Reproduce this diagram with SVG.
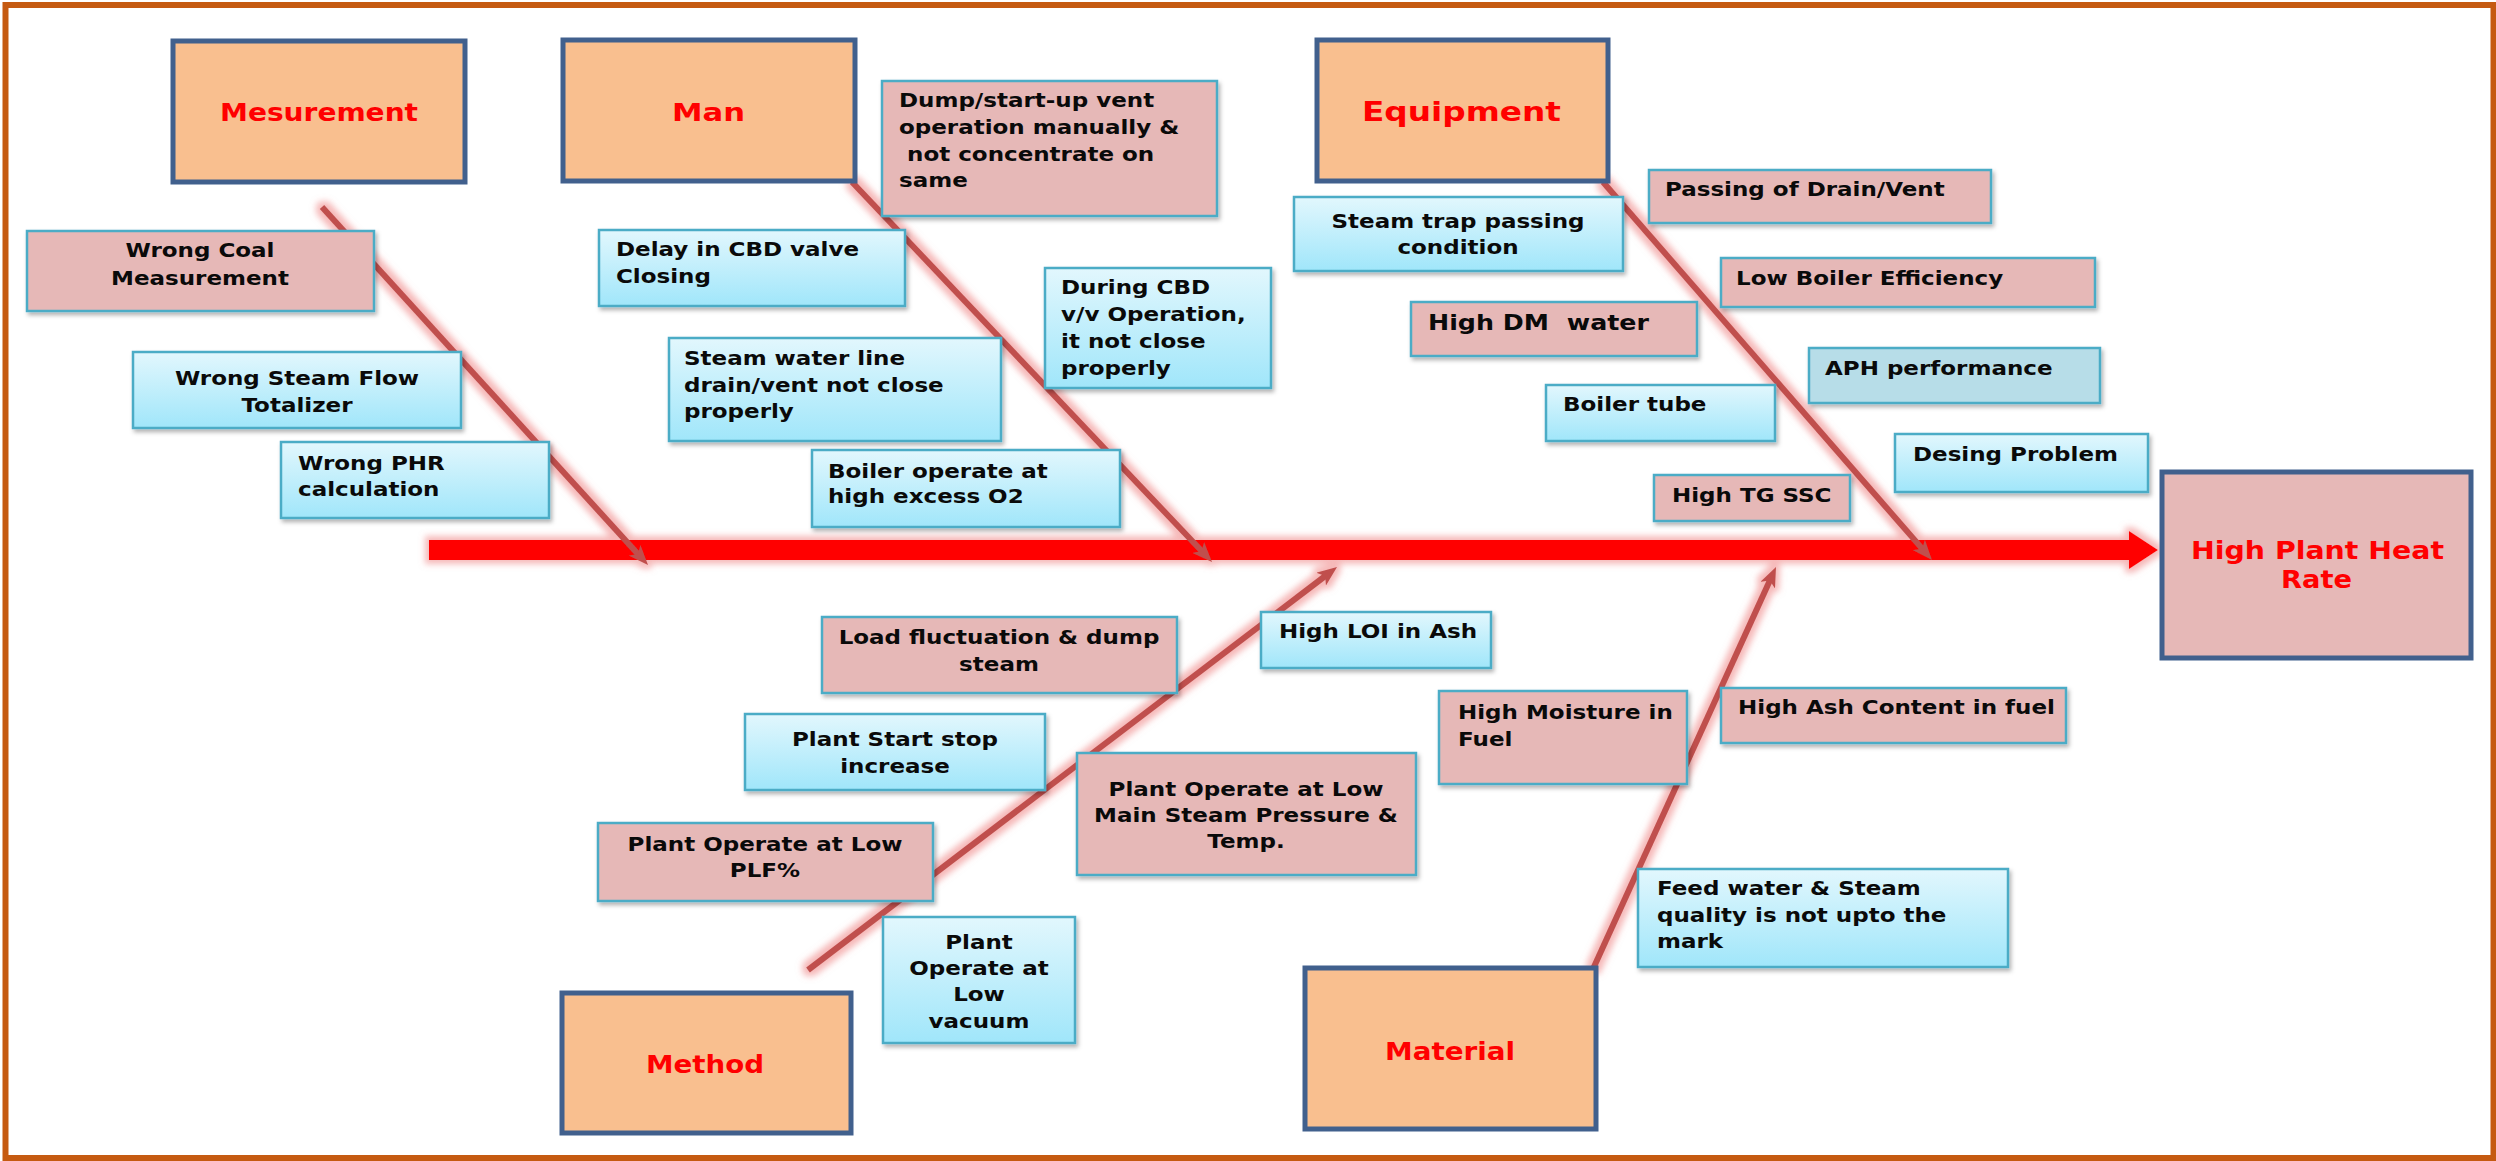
<svg xmlns="http://www.w3.org/2000/svg" width="2496" height="1161" viewBox="0 0 2496 1161">
  <style>
    .frame { fill: #ffffff; stroke: #C55A11; stroke-width: 6; }
    .cat { fill: #F9BF8F; stroke: #41608D; stroke-width: 5; }
    .effect { fill: #E6B8B7; stroke: #41608D; stroke-width: 5; }
    .pink { fill: #E6B8B7; stroke: #4BACC6; stroke-width: 2.5; filter: url(#shadow); }
    .blue { fill: url(#skyGrad); stroke: #4BACC6; stroke-width: 2.5; filter: url(#shadow); }
    .steel { fill: #B7DDE8; stroke: #4BACC6; stroke-width: 2.5; filter: url(#shadow); }
    .bone { fill: none; stroke: #C0504D; stroke-width: 6; marker-end: url(#head); }
    .spine { fill: #FF0000; }
    .ttl { font-family: "DejaVu Sans", Verdana, sans-serif; font-weight: 700; font-size: 25px; fill: #FF0000; }
    .tx { font-family: "DejaVu Sans", Verdana, sans-serif; font-weight: 700; font-size: 20px; fill: #0a0a0a;
          transform-box: fill-box; transform: scaleX(1.15); }
    .tl { transform-origin: left center; }
    .tc { text-anchor: middle; transform-origin: center; }
  </style>
  <defs>
    <linearGradient id="skyGrad" x1="0" y1="0" x2="0" y2="1">
      <stop offset="0" stop-color="#E2F7FD"/>
      <stop offset="1" stop-color="#A0E6FA"/>
    </linearGradient>
    <filter id="shadow" x="-5%" y="-5%" width="115%" height="130%">
      <feDropShadow dx="2" dy="3" stdDeviation="2" flood-color="#000" flood-opacity="0.3"/>
    </filter>
    <filter id="glow" filterUnits="userSpaceOnUse" x="0" y="0" width="2496" height="1161">
      <feMorphology in="SourceAlpha" operator="dilate" radius="4" result="wide"/>
      <feGaussianBlur in="wide" stdDeviation="3" result="soft"/>
      <feFlood flood-color="#EE7F7F" flood-opacity="0.55"/>
      <feComposite in2="soft" operator="in" result="halo"/>
      <feMerge>
        <feMergeNode in="halo"/>
        <feMergeNode in="SourceGraphic"/>
      </feMerge>
    </filter>
    <marker id="head" markerUnits="userSpaceOnUse" viewBox="0 0 20 16" markerWidth="20" markerHeight="16" refX="6" refY="8" orient="auto">
      <path d="M0,0 L20,8 L0,16 L5,8 Z" fill="#C0504D"/>
    </marker>
  </defs>

  <!-- page frame -->
  <rect class="frame" x="5.5" y="5" width="2488" height="1153"/>

  <!-- spine and bones -->
  <g id="connectors" filter="url(#glow)">
    <path class="spine" d="M429,540 H2129 V531 L2158,550 L2129,569 V560 H429 Z"/>
    <line class="bone" x1="322" y1="207" x2="638.6" y2="554.7"/>
    <line class="bone" x1="852" y1="182" x2="1202.4" y2="551.8"/>
    <line class="bone" x1="1603" y1="182" x2="1922.8" y2="549.4"/>
    <line class="bone" x1="808" y1="970" x2="1325.9" y2="575.5"/>
    <line class="bone" x1="1593" y1="969" x2="1770.2" y2="579.7"/>
  </g>

  <!-- category heads -->
  <g id="cat-mesurement">
    <rect class="cat" x="173" y="41" width="292" height="141"/>
    <text class="ttl" x="220" y="121" textLength="198" lengthAdjust="spacingAndGlyphs">Mesurement</text>
  </g>
  <g id="cat-man">
    <rect class="cat" x="563" y="40" width="292" height="141"/>
    <text class="ttl" x="672" y="121" textLength="73" lengthAdjust="spacingAndGlyphs">Man</text>
  </g>
  <g id="cat-equipment">
    <rect class="cat" x="1317" y="40" width="291" height="141"/>
    <text class="ttl" x="1362" y="121" textLength="199" lengthAdjust="spacingAndGlyphs" style="font-size:27px">Equipment</text>
  </g>
  <g id="cat-method">
    <rect class="cat" x="562" y="993" width="289" height="140"/>
    <text class="ttl" x="646" y="1073" textLength="118" lengthAdjust="spacingAndGlyphs">Method</text>
  </g>
  <g id="cat-material">
    <rect class="cat" x="1305" y="968" width="291" height="161"/>
    <text class="ttl" x="1385" y="1060" textLength="130" lengthAdjust="spacingAndGlyphs">Material</text>
  </g>

  <!-- effect -->
  <g id="effect-heat-rate">
    <rect class="effect" x="2162" y="472" width="309" height="186"/>
    <text class="ttl" x="2191" y="559" textLength="253" lengthAdjust="spacingAndGlyphs" style="font-size:24px">High Plant Heat</text>
    <text class="ttl" x="2281" y="588" textLength="71" lengthAdjust="spacingAndGlyphs" style="font-size:24px">Rate</text>
  </g>

  <!-- measurement causes -->
  <g id="cause-wrong-coal">
    <rect class="pink" x="27" y="231" width="347" height="80"/>
    <text class="tx tc" x="200" y="257"><tspan x="200">Wrong Coal</tspan><tspan x="200" y="285">Measurement</tspan></text>
  </g>
  <g id="cause-steam-flow">
    <rect class="blue" x="133" y="352" width="328" height="76"/>
    <text class="tx tc" x="297" y="385"><tspan x="297">Wrong Steam Flow</tspan><tspan x="297" y="412">Totalizer</tspan></text>
  </g>
  <g id="cause-phr">
    <rect class="blue" x="281" y="442" width="268" height="76"/>
    <text class="tx tl" x="298" y="470"><tspan x="298">Wrong PHR</tspan><tspan x="298" y="496">calculation</tspan></text>
  </g>

  <!-- man causes -->
  <g id="cause-dump-vent">
    <rect class="pink" x="882" y="81" width="335" height="135"/>
    <text class="tx tl" x="899" y="107"><tspan x="899">Dump/start-up vent</tspan><tspan x="899" y="134">operation manually &amp;</tspan><tspan x="906" y="161">not concentrate on</tspan><tspan x="899" y="187">same</tspan></text>
  </g>
  <g id="cause-cbd-delay">
    <rect class="blue" x="599" y="230" width="306" height="76"/>
    <text class="tx tl" x="616" y="256"><tspan x="616">Delay in CBD valve</tspan><tspan x="616" y="283">Closing</tspan></text>
  </g>
  <g id="cause-drain-vent">
    <rect class="blue" x="669" y="338" width="332" height="103"/>
    <text class="tx tl" x="684" y="365"><tspan x="684">Steam water line</tspan><tspan x="684" y="392">drain/vent not close</tspan><tspan x="684" y="418">properly</tspan></text>
  </g>
  <g id="cause-cbd-operation">
    <rect class="blue" x="1045" y="268" width="226" height="120"/>
    <text class="tx tl" x="1061" y="294"><tspan x="1061">During CBD</tspan><tspan x="1061" y="321">v/v Operation,</tspan><tspan x="1061" y="348">it not close</tspan><tspan x="1061" y="375">properly</tspan></text>
  </g>
  <g id="cause-excess-o2">
    <rect class="blue" x="812" y="450" width="308" height="77"/>
    <text class="tx tl" x="828" y="478"><tspan x="828">Boiler operate at</tspan><tspan x="828" y="503">high excess O2</tspan></text>
  </g>

  <!-- equipment causes -->
  <g id="cause-steam-trap">
    <rect class="blue" x="1294" y="197" width="329" height="74"/>
    <text class="tx tc" x="1458" y="228"><tspan x="1458">Steam trap passing</tspan><tspan x="1458" y="254">condition</tspan></text>
  </g>
  <g id="cause-passing-drain">
    <rect class="pink" x="1649" y="170" width="342" height="53"/>
    <text class="tx tl" x="1665" y="196">Passing of Drain/Vent</text>
  </g>
  <g id="cause-boiler-efficiency">
    <rect class="pink" x="1721" y="258" width="374" height="49"/>
    <text class="tx tl" x="1736" y="285">Low Boiler Efficiency</text>
  </g>
  <g id="cause-dm-water">
    <rect class="pink" x="1411" y="302" width="286" height="54"/>
    <text class="tx tl" x="1428" y="330" style="font-size:22px">High DM <tspan dx="8">water</tspan></text>
  </g>
  <g id="cause-aph">
    <rect class="steel" x="1809" y="348" width="291" height="55"/>
    <text class="tx tl" x="1825" y="375">APH performance</text>
  </g>
  <g id="cause-boiler-tube">
    <rect class="blue" x="1546" y="385" width="229" height="56"/>
    <text class="tx tl" x="1563" y="411">Boiler tube</text>
  </g>
  <g id="cause-design">
    <rect class="blue" x="1895" y="434" width="253" height="58"/>
    <text class="tx tl" x="1913" y="461">Desing Problem</text>
  </g>
  <g id="cause-tg-ssc">
    <rect class="pink" x="1654" y="475" width="196" height="46"/>
    <text class="tx tl" x="1672" y="502">High TG SSC</text>
  </g>

  <!-- method causes -->
  <g id="cause-load-fluctuation">
    <rect class="pink" x="822" y="617" width="355" height="76"/>
    <text class="tx tc" x="999" y="644"><tspan x="999">Load fluctuation &amp; dump</tspan><tspan x="999" y="671">steam</tspan></text>
  </g>
  <g id="cause-start-stop">
    <rect class="blue" x="745" y="714" width="300" height="76"/>
    <text class="tx tc" x="895" y="746"><tspan x="895">Plant Start stop</tspan><tspan x="895" y="773">increase</tspan></text>
  </g>
  <g id="cause-low-plf">
    <rect class="pink" x="598" y="823" width="335" height="78"/>
    <text class="tx tc" x="765" y="851"><tspan x="765">Plant Operate at Low</tspan><tspan x="765" y="877">PLF%</tspan></text>
  </g>
  <g id="cause-low-pressure">
    <rect class="pink" x="1077" y="753" width="339" height="122"/>
    <text class="tx tc" x="1246" y="796"><tspan x="1246">Plant Operate at Low</tspan><tspan x="1246" y="822">Main Steam Pressure &amp;</tspan><tspan x="1246" y="848">Temp.</tspan></text>
  </g>
  <g id="cause-low-vacuum">
    <rect class="blue" x="883" y="917" width="192" height="126"/>
    <text class="tx tc" x="979" y="949"><tspan x="979">Plant</tspan><tspan x="979" y="975">Operate at</tspan><tspan x="979" y="1001">Low</tspan><tspan x="979" y="1028">vacuum</tspan></text>
  </g>

  <!-- material causes -->
  <g id="cause-loi">
    <rect class="blue" x="1261" y="612" width="230" height="56"/>
    <text class="tx tl" x="1279" y="638">High LOI in Ash</text>
  </g>
  <g id="cause-moisture">
    <rect class="pink" x="1439" y="691" width="248" height="93"/>
    <text class="tx tl" x="1458" y="719"><tspan x="1458">High Moisture in</tspan><tspan x="1458" y="746">Fuel</tspan></text>
  </g>
  <g id="cause-ash-content">
    <rect class="pink" x="1721" y="688" width="345" height="55"/>
    <text class="tx tl" x="1738" y="714">High Ash Content in fuel</text>
  </g>
  <g id="cause-feed-water">
    <rect class="blue" x="1638" y="869" width="370" height="98"/>
    <text class="tx tl" x="1657" y="895"><tspan x="1657">Feed water &amp; Steam</tspan><tspan x="1657" y="922">quality is not upto the</tspan><tspan x="1657" y="948">mark</tspan></text>
  </g>
</svg>
